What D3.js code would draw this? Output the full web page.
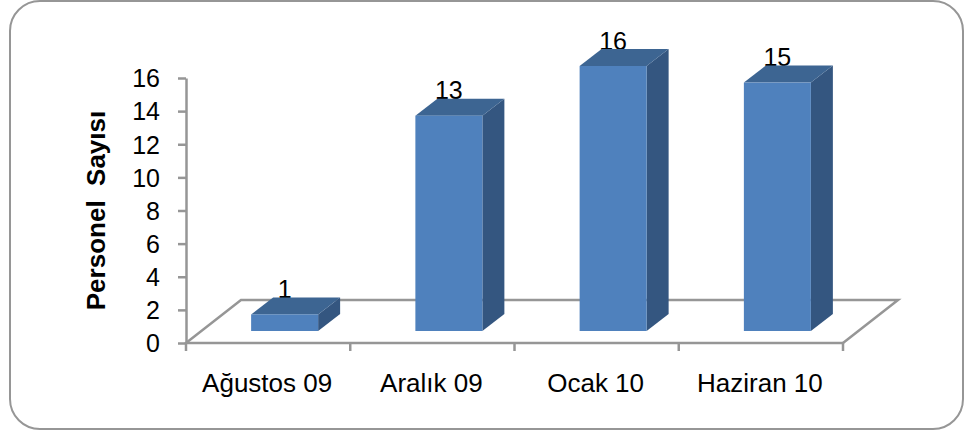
<!DOCTYPE html>
<html><head><meta charset="utf-8">
<style>html,body{margin:0;padding:0;background:#fff;overflow:hidden}svg{display:block}text{font-family:"Liberation Sans",Arial,sans-serif;fill:#000}</style>
<script src="https://cdn.jsdelivr.net/npm/d3@7/dist/d3.min.js"></script>
</head><body><div id="c"></div>
<script>
const categories=["Ağustos 09","Aralık 09","Ocak 10","Haziran 10"];
const values=[1,13,16,15];
const yTicks=[0,2,4,6,8,10,12,14,16];
const axisTitle="Personel\u00a0\u00a0Sayısı";

const W=965,H=430,gray="#969696";
const svg=d3.select("#c").append("svg").attr("width",W).attr("height",H);
svg.append("rect").attr("x",10).attr("y",1).attr("width",953).attr("height",428).attr("rx",30)
  .attr("fill","#fff").attr("stroke",gray).attr("stroke-width",2);

const x=d3.scaleBand().domain(categories).range([186,843]).paddingInner(0).paddingOuter(0);
const y=d3.scaleLinear().domain([0,16]).range([343,78]);
const dx=22,dy=-17,floorDx=55,floorDy=-43,lift=12,barW=67,barShift=16.5;

// floor
svg.append("path").attr("fill","none").attr("stroke",gray).attr("stroke-width",2.5).attr("stroke-linecap","square")
 .attr("d",d3.line()([[x.range()[0],y(0)],[x.range()[0]+floorDx,y(0)+floorDy],[x.range()[1]+floorDx,y(0)+floorDy],[x.range()[1],y(0)]]));
// axes
const gy=svg.append("g").attr("transform","translate(186,0)").call(d3.axisLeft(y).tickValues(yTicks).tickSize(8).tickPadding(18).tickSizeOuter(0));
gy.selectAll("text").attr("font-size",25).attr("dy","0.35em").attr("font-family",'"Liberation Sans"');
gy.selectAll("line,path").attr("stroke",gray).attr("stroke-width",2.5);
const xEdges=[...categories.map(c=>x(c)),x.range()[1]];
const gx=svg.append("g");
gx.append("line").attr("x1",186).attr("x2",843).attr("y1",y(0)).attr("y2",y(0));
gx.selectAll(".t").data(xEdges).join("line").attr("class","t").attr("x1",d=>d).attr("x2",d=>d).attr("y1",y(0)).attr("y2",y(0)+8);
gx.selectAll("line").attr("stroke",gray).attr("stroke-width",2.5);
gx.selectAll(".l").data(categories).join("text").attr("class","l")
  .attr("x",d=>x(d)+x.bandwidth()/2-1).attr("y",392).attr("text-anchor","middle").attr("font-size",26).text(d=>d);

svg.append("text").attr("transform","translate(104.5,210.5) rotate(-90)").attr("text-anchor","middle")
  .attr("font-size",26).attr("font-weight","bold").text(axisTitle);

const cx=c=>x(c)+x.bandwidth()/2+barShift;
const barTop=v=>y(v)-lift;
// data labels sit behind the bars
svg.selectAll(".dl").data(categories).join("text").attr("class","dl")
  .attr("x",cx).attr("y",(c,i)=>barTop(values[i])-16.5).attr("text-anchor","middle").attr("font-size",25).text((c,i)=>values[i]);

const bars=svg.selectAll(".b").data(categories).join("g").attr("class","b");
const poly=d3.line();
bars.append("path").attr("fill","#345680").attr("d",(c,i)=>{const r=cx(c)+barW/2,t=barTop(values[i]),b=y(0)-lift;
  return poly([[r,t],[r+dx,t+dy],[r+dx,b+dy],[r,b]])+"Z"});
bars.append("path").attr("fill","#3d6592").attr("d",(c,i)=>{const l=cx(c)-barW/2,r=l+barW,t=barTop(values[i]);
  return poly([[l,t],[l+dx,t+dy],[r+dx,t+dy],[r,t]])+"Z"});
bars.append("rect").attr("fill","#4f81bd").attr("x",c=>cx(c)-barW/2).attr("width",barW)
  .attr("y",(c,i)=>barTop(values[i])).attr("height",(c,i)=>y(0)-y(values[i]));
</script></body></html>
